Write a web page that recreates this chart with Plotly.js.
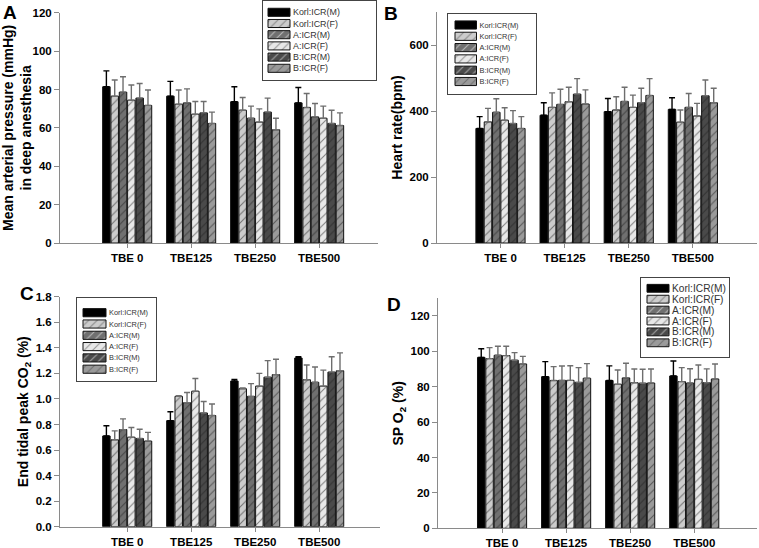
<!DOCTYPE html>
<html>
<head>
<meta charset="utf-8">
<script src="https://cdn.plot.ly/plotly-3.0.1.min.js"></script>
<style>
  html, body { margin: 0; padding: 0; background: #fff; }
  #chart { width: 759px; height: 548px; }
</style>
</head>
<body>
<div id="chart"></div>
<script>
// groups on the x axis
const doses = ["TBE 0", "TBE125", "TBE250", "TBE500"];

// series (strain:sex)
const seriesNames = ["Korl:ICR(M)", "Korl:ICR(F)", "A:ICR(M)", "A:ICR(F)", "B:ICR(M)", "B:ICR(F)"];
const seriesFill  = ["#000000", "#cccccc", "#707070", "#e8e8e8", "#4a4a4a", "#9a9a9a"];
const seriesHatch = ["", "/", "/", "/", "/", "/"];
const errColor    = ["#000000", "#6e6e6e", "#6e6e6e", "#6e6e6e", "#6e6e6e", "#6e6e6e"];

// A: mean arterial pressure (mmHg), one row per series
const mapMean = [
  [81.4, 76.5, 73.6, 73.0],
  [76.5, 72.3, 69.2, 70.6],
  [78.6, 73.0, 65.0, 65.7],
  [74.4, 67.1, 63.0, 65.0],
  [75.5, 67.8, 68.2, 62.3],
  [71.7, 62.3, 59.0, 61.2]
];
const mapErr = [
  [8.3, 7.7, 7.8, 8.0],
  [8.4, 7.4, 6.6, 7.3],
  [8.0, 7.3, 6.3, 7.0],
  [7.9, 6.6, 6.9, 6.3],
  [7.6, 5.9, 7.3, 6.9],
  [8.0, 5.9, 6.0, 6.6]
];

// B: heart rate (bpm)
const hrMean = [
  [347, 387, 398, 405],
  [367, 411, 403, 366],
  [396, 420, 429, 411],
  [372, 428, 411, 385],
  [362, 451, 425, 446],
  [347, 421, 447, 425]
];
const hrErr = [
  [36, 38, 40, 35],
  [41, 44, 40, 37],
  [41, 46, 43, 42],
  [38, 44, 37, 38],
  [39, 47, 44, 48],
  [36, 43, 51, 44]
];

// C: end tidal peak CO2 (%)
const co2Mean = [
  [0.71, 0.83, 1.14, 1.32],
  [0.68, 1.02, 1.08, 1.15],
  [0.76, 0.97, 1.02, 1.13],
  [0.70, 1.06, 1.10, 1.10],
  [0.69, 0.89, 1.17, 1.21],
  [0.67, 0.87, 1.19, 1.22]
];
const co2Err = [
  [0.080, 0.070, 0.013, 0.010],
  [0.070, 0.005, 0.005, 0.115],
  [0.084, 0.080, 0.100, 0.120],
  [0.076, 0.100, 0.100, 0.125],
  [0.073, 0.090, 0.130, 0.120],
  [0.068, 0.090, 0.120, 0.140]
];

// D: SpO2 (%)
const spo2Mean = [
  [96.6, 85.7, 83.5, 86.1],
  [95.9, 83.5, 81.4, 82.9],
  [97.8, 83.6, 85.0, 82.1],
  [97.6, 83.6, 82.3, 84.2],
  [95.0, 82.5, 82.0, 82.3],
  [92.9, 84.8, 82.1, 84.4]
];
const spo2Err = [
  [4.9, 8.5, 8.3, 8.5],
  [6.2, 7.9, 8.1, 7.9],
  [5.1, 8.1, 8.3, 8.1],
  [5.3, 8.3, 7.7, 8.1],
  [4.3, 8.3, 7.9, 7.8],
  [4.3, 8.3, 7.9, 8.5]
];

const W = 759, H = 548;
const FONT = "Liberation Sans, Arial, sans-serif";
const AXIS_GRAY = "#8a8a8a";

function px(x){ return x / W; }
function py(y){ return 1 - y / H; }

function hatch(shape){
  return { shape, fillmode: "overlay", fgcolor: "#1a1a1a", size: 6, solidity: 0.18 };
}

function barTraces(means, errs, xa, ya){
  return seriesNames.map((name, i) => ({
    type: "bar",
    name,
    x: doses,
    y: means[i],
    xaxis: xa, yaxis: ya,
    showlegend: false,
    marker: {
      color: seriesFill[i],
      line: { color: "#111", width: 1 },
      pattern: hatch(seriesHatch[i])
    },
    error_y: {
      type: "data",
      symmetric: false,
      array: errs[i],
      arrayminus: errs[i].map(() => 0),
      color: errColor[i],
      thickness: 1.4,
      width: 3
    },
    hoverinfo: "name+y"
  }));
}

// little framed key drawn as a horizontal bar chart on its own axes
function keyTrace(xa, ya, fontSize){
  return {
    type: "bar",
    orientation: "h",
    x: seriesNames.map(() => 1),
    y: seriesNames,
    xaxis: xa, yaxis: ya,
    width: 0.72,
    showlegend: false,
    hoverinfo: "skip",
    text: seriesNames,
    textposition: "outside",
    constraintext: "none",
    cliponaxis: false,
    textfont: { family: FONT, size: fontSize, color: "#333" },
    marker: {
      color: seriesFill,
      line: { color: "#111", width: 1 },
      pattern: hatch(seriesHatch)
    }
  };
}

function keyAxes(box, xid, yid){
  const unit = box.sx1 - box.sx0;
  const xa = {
    domain: [px(box.x0), px(box.x1)],
    anchor: yid,
    range: [(box.x0 - box.sx0) / unit, (box.x1 - box.sx0) / unit],
    showline: true, mirror: true, linecolor: "#444", linewidth: 1,
    showticklabels: false, ticks: "", showgrid: false, zeroline: false,
    fixedrange: true
  };
  const ya = {
    domain: [py(box.y1), py(box.y0)],
    anchor: xid,
    type: "category",
    range: [(box.y1 - box.row0) / box.step, (box.y0 - box.row0) / box.step],
    showline: true, mirror: true, linecolor: "#444", linewidth: 1,
    showticklabels: false, ticks: "", showgrid: false, zeroline: false,
    fixedrange: true
  };
  return [xa, ya];
}

function xAxis(x0, x1, r0, r1, anchor){
  return {
    domain: [px(x0), px(x1)],
    range: [r0, r1],
    anchor,
    type: "category",
    showline: true, linecolor: AXIS_GRAY, linewidth: 1,
    ticks: "outside", ticklen: 4, tickcolor: AXIS_GRAY,
    tickfont: { family: FONT, size: 11.5, color: "#000", weight: "bold" },
    showgrid: false, zeroline: false, fixedrange: true
  };
}

function yAxis(yBottom, yTop, r, tickvals, title, anchor, fmt){
  return {
    domain: [py(yBottom), py(yTop)],
    range: r,
    anchor,
    tickvals,
    tickformat: fmt || "",
    showline: true, linecolor: AXIS_GRAY, linewidth: 1,
    ticks: "outside", ticklen: 5, tickcolor: AXIS_GRAY,
    tickfont: { family: FONT, size: 11.5, color: "#000", weight: "bold" },
    title: { text: title, font: { family: FONT, size: 14, color: "#000", weight: "bold" }, standoff: 3 },
    showgrid: false, zeroline: false, fixedrange: true
  };
}

const traces = [
  ...barTraces(mapMean, mapErr, "x", "y"),
  ...barTraces(hrMean, hrErr, "x2", "y2"),
  ...barTraces(co2Mean, co2Err, "x3", "y3"),
  ...barTraces(spo2Mean, spo2Err, "x4", "y4"),
  keyTrace("x5", "y5", 8.9),
  keyTrace("x6", "y6", 7.4),
  keyTrace("x7", "y7", 7.4),
  keyTrace("x8", "y8", 10.2)
];

const [kxA, kyA] = keyAxes({ x0: 263, x1: 376, y0: 1, y1: 80, sx0: 268, sx1: 290, row0: 12.3, step: 11.2 }, "x5", "y5");
const [kxB, kyB] = keyAxes({ x0: 448, x1: 536, y0: 14, y1: 94, sx0: 455, sx1: 476.5, row0: 25, step: 11.3 }, "x6", "y6");
const [kxC, kyC] = keyAxes({ x0: 77, x1: 156, y0: 298, y1: 381, sx0: 83, sx1: 106, row0: 312.7, step: 11.3 }, "x7", "y7");
const [kxD, kyD] = keyAxes({ x0: 641, x1: 729, y0: 278, y1: 357, sx0: 647, sx1: 669, row0: 288.3, step: 10.9 }, "x8", "y8");

function panelLetter(t, x, y){
  return {
    text: t, xref: "paper", yref: "paper", x: px(x), y: py(y),
    xanchor: "left", yanchor: "top", showarrow: false,
    font: { family: FONT, size: 19, color: "#000", weight: "bold" }
  };
}

const layout = {
  width: W, height: H,
  margin: { l: 0, r: 0, t: 0, b: 0 },
  paper_bgcolor: "#fff",
  plot_bgcolor: "rgba(0,0,0,0)",
  barmode: "group",
  bargap: 0.22,
  bargroupgap: 0.1,
  showlegend: false,
  font: { family: FONT, color: "#000" },

  xaxis:  xAxis(60, 378, -1.05, 3.92, "y"),
  yaxis:  yAxis(243, 12.7, [0, 120], [0, 20, 40, 60, 80, 100, 120],
                "Mean arterial pressure (mmHg)<br>in deep anesthesia", "x"),
  xaxis2: xAxis(437, 757, -0.99, 4.0, "y2"),
  yaxis2: yAxis(243, 12, [0, 700], [0, 200, 400, 600], "Heart rate(bpm)", "x2"),
  xaxis3: xAxis(60, 380, -1.05, 3.95, "y3"),
  yaxis3: yAxis(526.7, 296.7, [0, 1.8], [0, 0.2, 0.4, 0.6, 0.8, 1.0, 1.2, 1.4, 1.6, 1.8],
                "End tidal peak CO<sub>2</sub> (%)", "x3", ".1f"),
  xaxis4: xAxis(438, 757, -1.0, 3.98, "y4"),
  yaxis4: yAxis(528.3, 298.3, [0, 130], [0, 20, 40, 60, 80, 100, 120], "SP O<sub>2</sub> (%)", "x4"),

  xaxis5: kxA, yaxis5: kyA,
  xaxis6: kxB, yaxis6: kyB,
  xaxis7: kxC, yaxis7: kyC,
  xaxis8: kxD, yaxis8: kyD,

  annotations: [
    panelLetter("A", 1, 0),
    panelLetter("B", 382, 1),
    panelLetter("C", 18, 281),
    panelLetter("D", 385, 292)
  ]
};

Plotly.newPlot("chart", traces, layout, { displayModeBar: false, staticPlot: true });
</script>
</body>
</html>
